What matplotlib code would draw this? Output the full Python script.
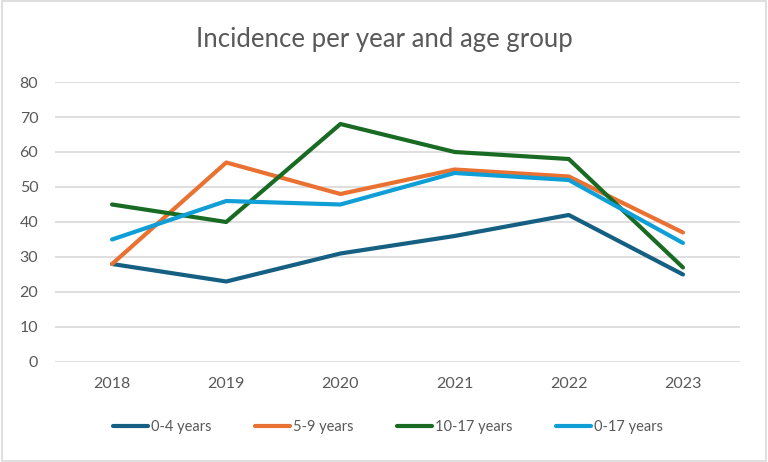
import matplotlib.pyplot as plt
from matplotlib.patches import Rectangle

years = ['2018', '2019', '2020', '2021', '2022', '2023']
age_0_4 = [28, 23, 31, 36, 42, 25]
age_5_9 = [28, 57, 48, 55, 53, 37]
age_10_17 = [45, 40, 68, 60, 58, 27]
age_0_17 = [35, 46, 45, 54, 52, 34]

labels = ['0-4 years', '5-9 years', '10-17 years', '0-17 years']
colors = ['#156082', '#E97132', '#196B24', '#0F9ED5']

plt.rcParams['font.family'] = ['Lato', 'DejaVu Sans']

fig = plt.figure(figsize=(7.68, 4.62), dpi=100)
fig.patches.append(Rectangle((0.002, 0.003), 0.996, 0.994, transform=fig.transFigure,
                             fill=False, edgecolor='#D9D9D9', linewidth=1.2))
ax = fig.add_axes([0.0716, 0.2165, 0.892, 0.606])

x = range(len(years))
for vals, lab, col in zip([age_0_4, age_5_9, age_10_17, age_0_17], labels, colors):
    ax.plot(x, vals, color=col, linewidth=3, label=lab, solid_capstyle='round')

ax.set_xlim(-0.5, len(years) - 0.5)
ax.set_ylim(0, 80)
ax.set_yticks(range(0, 81, 10))
ax.set_xticks(list(x))
ax.set_xticklabels(years)
ax.grid(axis='y', color='#D9D9D9', linewidth=1.2)
ax.set_axisbelow(True)
for s in ax.spines.values():
    s.set_visible(False)
ax.tick_params(length=0, colors='#595959', labelsize=11.5)
ax.tick_params(axis='y', pad=12)
ax.tick_params(axis='x', pad=11)

fig.text(0.5, 0.915, 'Incidence per year and age group', ha='center', va='center',
         fontsize=18.5, color='#595959')

fig.legend(loc='center', bbox_to_anchor=(0.505, 0.075), ncol=4, frameon=False,
           fontsize=10.5, labelcolor='#595959', handlelength=2.4, handletextpad=0.2,
           columnspacing=3.0)

fig.savefig('out.png', dpi=100)
